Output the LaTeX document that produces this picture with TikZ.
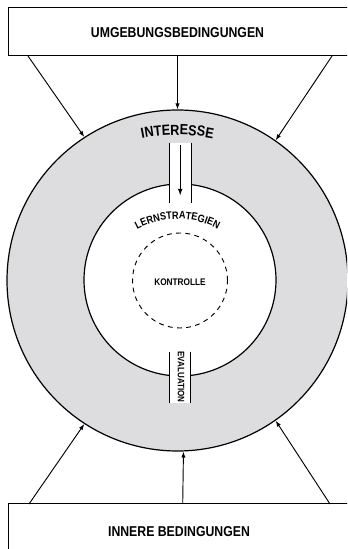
\documentclass[tikz,border=0pt]{standalone}
\usepackage{fontspec}
\setmainfont{Liberation Sans}
\newfontfamily\condfam[FakeStretch=0.86]{Liberation Sans}
\newcommand{\condb}{\condfam\bfseries}
\usetikzlibrary{arrows.meta,calc,decorations.text}
\definecolor{ringgray}{RGB}{221,220,222}
\tikzset{
  boxstyle/.style={draw=black, line width=0.75pt, fill=white, rectangle, inner sep=0pt},
  labelstyle/.style={font=\condb\fontsize{10.7pt}{12pt}\selectfont, inner sep=0pt},
  conn/.style={line width=0.7pt, -{Latex[length=4.5pt,width=3.2pt]}},
  circ/.style={circle, draw=black, line width=0.9pt, inner sep=0pt},
  chan/.style={rectangle, fill=white, draw=none, inner sep=0pt},
  chanline/.style={line width=0.8pt},
}
\begin{document}
\begin{tikzpicture}[x=0.75pt, y=0.75pt]
\clip (0,0) rectangle (347,549);
\fill[white] (0,0) rectangle (347,549);
% rings
\node[circ, fill=ringgray, minimum size=255.75pt] (ring) at (177.5,268.5) {};
\node[circ, fill=white, minimum size=144pt] (inner) at (180,269) {};
\node[circle, draw=black, line width=0.7pt, dash pattern=on 3.6pt off 3.3pt, minimum size=71.25pt, inner sep=0pt] (ctrl) at (180,268.5) {};
\node[font=\condb\fontsize{7.2pt}{8pt}\selectfont, inner sep=0pt] (ctrltext) at (180,267) {KONTROLLE};
% top channel
\node[chan, minimum width=16.65pt, minimum height=45pt] (ch1) at (180.4,376) {};
\draw[chanline] (ch1.north west) -- (ch1.south west);
\draw[chanline] (ch1.north east) -- (ch1.south east);
\coordinate (a1s) at (180.2,404);
\coordinate (a1e) at (180.2,353.5);
\draw[line width=0.8pt, -{Latex[length=5pt,width=3.6pt]}] (a1s) -- (a1e);
% bottom channel
\node[chan, minimum width=15.5pt, minimum height=38.25pt] (ch2) at (180.35,171.5) {};
\draw[chanline] (ch2.north west) -- (ch2.south west);
\draw[chanline] (ch2.north east) -- (ch2.south east);
\node[font=\condb\fontsize{7pt}{8pt}\selectfont, rotate=-90, inner sep=0pt] (evaltext) at (181,172) {EVALUATION};
% curved texts
\coordinate (tc) at (177.5,234);
\path[decorate, decoration={text along path, text={|\condb\fontsize{11pt}{12pt}\selectfont|INTERESSE}, text align=center}]
  ($(tc)+(115:180)$) arc[start angle=115, end angle=65, radius=180];
\coordinate (tc2) at (177.5,244);
\path[decorate, decoration={text along path, text={|\condb\fontsize{8pt}{9pt}\selectfont|LERNSTRATEGIEN}, text align=center}]
  ($(tc2)+(150:86)$) arc[start angle=150, end angle=30, radius=86];
% boxes
\node[boxstyle, minimum width=271.5pt, minimum height=36pt] (env) at (189,517) {};
\node[labelstyle] (envtext) at (177.5,516) {UMGEBUNGSBEDINGUNGEN};
\node[boxstyle, minimum width=271.5pt, minimum height=48.75pt] (innercond) at (189,12.5) {};
\node[labelstyle] (innertext) at (179,17) {INNERE BEDINGUNGEN};
% connectors from top box
\coordinate (t1) at (28,493);
\coordinate (t2) at (177.5,493);
\coordinate (t3) at (332,493);
\draw[conn] (t1) -- (ring.123.4);
\draw[conn] (t2) -- (ring.north);
\draw[conn] (t3) -- (ring.55.7);
% connectors from bottom box
\coordinate (b1) at (29,45);
\coordinate (b2) at (182.7,45);
\coordinate (b3) at (330,45);
\draw[conn] (b1) -- (ring.-123.2);
\draw[conn] (b2) -- (ring.-88.4);
\draw[conn] (b3) -- (ring.-55.7);
\end{tikzpicture}
\end{document}
